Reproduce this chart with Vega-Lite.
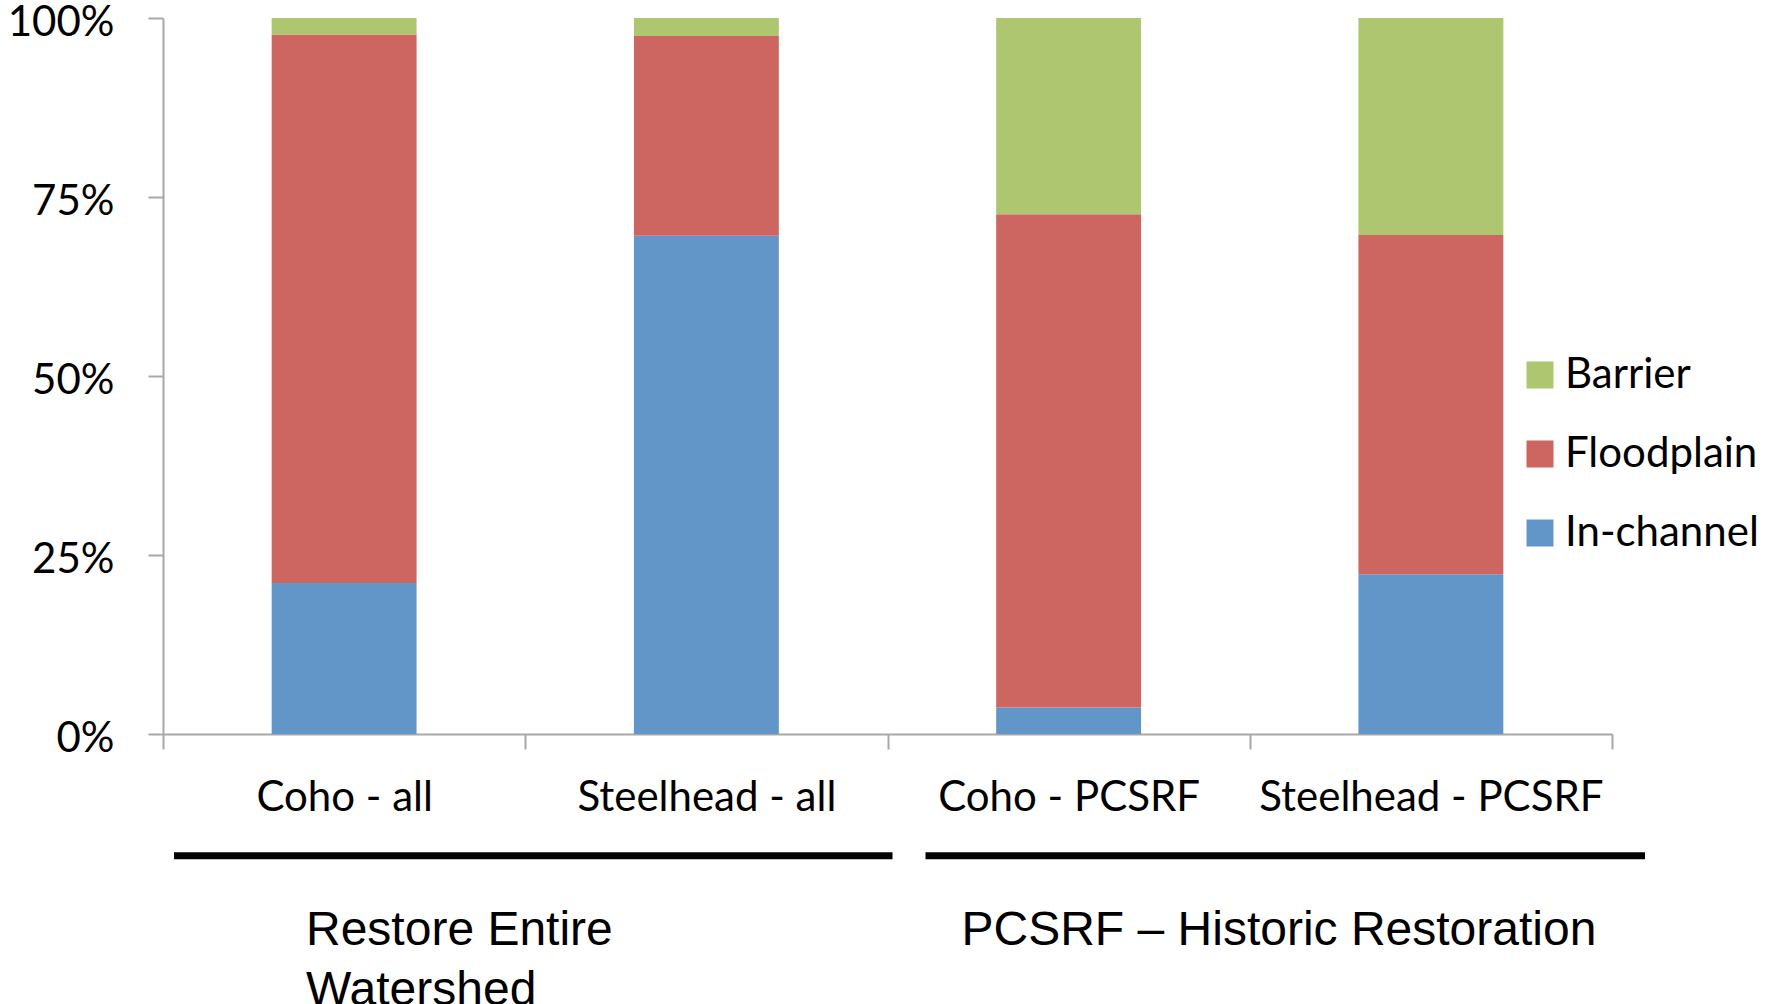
{
  "$schema": "https://vega.github.io/schema/vega-lite/v6.json",
  "autosize": "none",
  "width": 1449,
  "height": 716,
  "padding": {"left": 163, "top": 18, "right": 178, "bottom": 270},
  "background": "white",
  "config": {
    "view": {"stroke": null},
    "font": "Lato"
  },
  "datasets": {
    "shares": [
      {"scenario": "Coho - all", "component": "In-channel", "share": 21.1},
      {"scenario": "Coho - all", "component": "Floodplain", "share": 76.6},
      {"scenario": "Coho - all", "component": "Barrier", "share": 2.3},
      {"scenario": "Steelhead - all", "component": "In-channel", "share": 69.6},
      {"scenario": "Steelhead - all", "component": "Floodplain", "share": 27.9},
      {"scenario": "Steelhead - all", "component": "Barrier", "share": 2.5},
      {"scenario": "Coho - PCSRF", "component": "In-channel", "share": 3.7},
      {"scenario": "Coho - PCSRF", "component": "Floodplain", "share": 68.9},
      {"scenario": "Coho - PCSRF", "component": "Barrier", "share": 27.4},
      {"scenario": "Steelhead - PCSRF", "component": "In-channel", "share": 22.3},
      {"scenario": "Steelhead - PCSRF", "component": "Floodplain", "share": 47.4},
      {"scenario": "Steelhead - PCSRF", "component": "Barrier", "share": 30.3}
    ],
    "groups": [
      {"group": "Restore Entire\nWatershed", "first": "Coho - all", "last": "Steelhead - all"},
      {"group": "PCSRF – Historic Restoration", "first": "Coho - PCSRF", "last": "Steelhead - PCSRF"}
    ]
  },
  "encoding": {
    "x": {
      "field": "scenario",
      "type": "nominal",
      "sort": ["Coho - all", "Steelhead - all", "Coho - PCSRF", "Steelhead - PCSRF"],
      "scale": {
        "domain": ["Coho - all", "Steelhead - all", "Coho - PCSRF", "Steelhead - PCSRF"],
        "paddingInner": 0,
        "paddingOuter": 0
      },
      "axis": {
        "title": null,
        "labelAngle": 0,
        "tickBand": "extent",
        "labelFont": "Lato",
        "labelFontSize": 42,
        "labelColor": "#000000",
        "labelLimit": 0,
        "labelPadding": 28,
        "tickSize": 15,
        "tickColor": "#a8a8a8",
        "tickWidth": 2,
        "domainColor": "#a8a8a8",
        "domainWidth": 2
      }
    }
  },
  "layer": [
    {
      "data": {"name": "shares"},
      "mark": {"type": "bar", "width": {"band": 0.4}},
      "encoding": {
        "y": {
          "field": "share",
          "type": "quantitative",
          "stack": "zero",
          "scale": {"domain": [0, 100], "nice": false},
          "axis": {
            "title": null,
            "values": [0, 25, 50, 75, 100],
            "labelExpr": "datum.value + '%'",
            "grid": false,
            "labelFont": "Lato",
            "labelFontSize": 42,
            "labelColor": "#000000",
            "labelPadding": 34,
            "labelOffset": 4,
            "tickSize": 15,
            "tickColor": "#a8a8a8",
            "tickWidth": 2,
            "domainColor": "#a8a8a8",
            "domainWidth": 2
          }
        },
        "color": {
          "field": "component",
          "type": "nominal",
          "scale": {
            "domain": ["Barrier", "Floodplain", "In-channel"],
            "range": ["#adc66f", "#cd6560", "#6296c9"]
          },
          "legend": {
            "title": null,
            "orient": "none",
            "legendX": 1356,
            "legendY": 336,
            "symbolType": "square",
            "symbolSize": 729,
            "symbolStrokeWidth": 0,
            "labelFont": "Lato",
            "labelFontSize": 42,
            "labelColor": "#000000",
            "labelLimit": 0,
            "labelOffset": 4,
            "rowPadding": 37
          }
        },
        "order": {"field": "component", "sort": "descending"}
      }
    },
    {
      "data": {"name": "groups"},
      "transform": [{"filter": "datum.first == 'Coho - all'"}],
      "mark": {"type": "rule", "color": "#000000", "strokeWidth": 7, "xOffset": 11, "x2Offset": 5},
      "encoding": {
        "x": {"field": "first", "type": "nominal", "bandPosition": 0},
        "x2": {"field": "last", "bandPosition": 1},
        "y": {"datum": -17}
      }
    },
    {
      "data": {"name": "groups"},
      "transform": [{"filter": "datum.first == 'Coho - PCSRF'"}],
      "mark": {"type": "rule", "color": "#000000", "strokeWidth": 7, "xOffset": 38, "x2Offset": 33},
      "encoding": {
        "x": {"field": "first", "type": "nominal", "bandPosition": 0},
        "x2": {"field": "last", "bandPosition": 1},
        "y": {"datum": -17}
      }
    },
    {
      "data": {"name": "groups"},
      "transform": [{"filter": "datum.first == 'Coho - all'"}],
      "mark": {
        "type": "text",
        "align": "left",
        "baseline": "alphabetic",
        "font": "Liberation Sans",
        "fontSize": 48,
        "lineHeight": 60,
        "lineBreak": "\n",
        "color": "#000000",
        "dx": 143
      },
      "encoding": {
        "x": {"field": "first", "type": "nominal", "bandPosition": 0},
        "y": {"datum": -29.4},
        "text": {"field": "group"}
      }
    },
    {
      "data": {"name": "groups"},
      "transform": [{"filter": "datum.first == 'Coho - PCSRF'"}],
      "mark": {
        "type": "text",
        "align": "left",
        "baseline": "alphabetic",
        "font": "Liberation Sans",
        "fontSize": 48,
        "color": "#000000",
        "dx": 74
      },
      "encoding": {
        "x": {"field": "first", "type": "nominal", "bandPosition": 0},
        "y": {"datum": -29.4},
        "text": {"field": "group"}
      }
    }
  ]
}
